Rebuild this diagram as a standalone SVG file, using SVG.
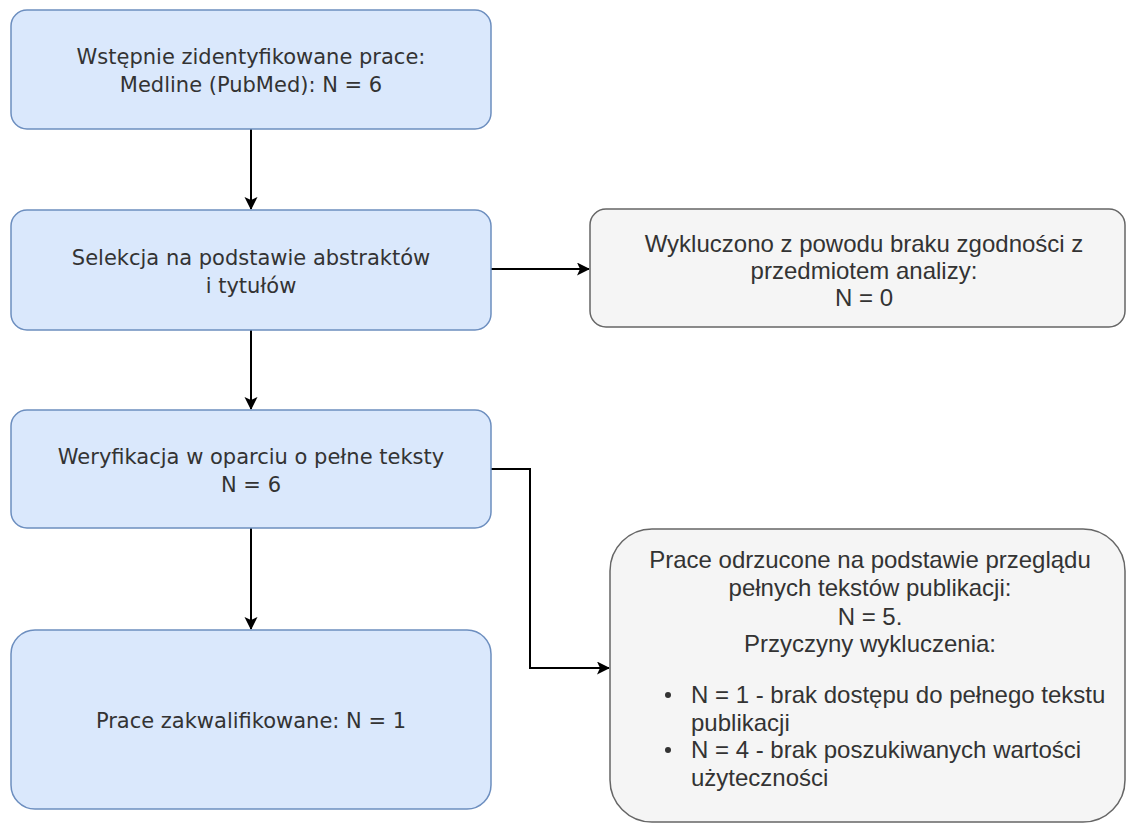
<svg xmlns="http://www.w3.org/2000/svg" width="1126" height="825" viewBox="0 0 1126 825">
<style>
.blue{fill:#dae8fc;stroke:#6c8ebf;stroke-width:1.5}
.gray{fill:#f5f5f5;stroke:#666666;stroke-width:1.5}
.tl{font-family:"DejaVu Sans",sans-serif;font-size:21px;fill:#333333;text-anchor:middle}
.tr{font-family:"Liberation Sans",Arial,sans-serif;font-size:24px;fill:#333333;text-anchor:middle}
.tb{font-family:"Liberation Sans",Arial,sans-serif;font-size:24px;fill:#333333}
.edge{fill:none;stroke:#000000;stroke-width:2}
</style>
<defs>
<marker id="arr" markerWidth="14" markerHeight="14" refX="12" refY="6.5" orient="auto" markerUnits="userSpaceOnUse">
<path d="M0,0 L13,6.5 L0,13 L3,6.5 Z" fill="#000000"/>
</marker>
</defs>
<rect width="1126" height="825" fill="#ffffff"/>
<g id="connectors">
<path class="edge" d="M251,129 L251,209" marker-end="url(#arr)"/>
<path class="edge" d="M251,330 L251,409" marker-end="url(#arr)"/>
<path class="edge" d="M251,528 L251,629" marker-end="url(#arr)"/>
<path class="edge" d="M491,269 L589,269" marker-end="url(#arr)"/>
<path class="edge" d="M491,469 L530,469 L530,668 L609,668" marker-end="url(#arr)"/>
</g>
<g id="n1">
<rect class="blue" x="11" y="10" width="480" height="119" rx="16"/>
<text class="tl" x="251" y="64">Wstępnie zidentyfikowane prace:</text>
<text class="tl" x="251" y="92">Medline (PubMed): N = 6</text>
</g>
<g id="n2">
<rect class="blue" x="11" y="210" width="480" height="120" rx="16"/>
<text class="tl" x="251" y="265">Selekcja na podstawie abstraktów</text>
<text class="tl" x="251" y="293">i tytułów</text>
</g>
<g id="n3">
<rect class="blue" x="11" y="410" width="480" height="118" rx="16"/>
<text class="tl" x="251" y="464">Weryfikacja w oparciu o pełne teksty</text>
<text class="tl" x="251" y="492">N = 6</text>
</g>
<g id="n4">
<rect class="blue" x="11" y="630" width="480" height="179" rx="24"/>
<text class="tl" x="251" y="728">Prace zakwalifikowane: N = 1</text>
</g>
<g id="n5">
<rect class="gray" x="590" y="209" width="535" height="118" rx="16"/>
<text class="tr" x="864" y="252">Wykluczono z powodu braku zgodności z</text>
<text class="tr" x="864" y="279">przedmiotem analizy:</text>
<text class="tr" x="864" y="306">N = 0</text>
</g>
<g id="n6">
<rect class="gray" x="610" y="529" width="515" height="293" rx="42"/>
<text class="tr" x="870" y="568">Prace odrzucone na podstawie przeglądu</text>
<text class="tr" x="870" y="596">pełnych tekstów publikacji:</text>
<text class="tr" x="870" y="625">N = 5.</text>
<text class="tr" x="870" y="652">Przyczyny wykluczenia:</text>
<circle cx="668" cy="695" r="3" fill="#333333"/>
<text class="tb" x="691" y="703">N = 1 - brak dostępu do pełnego tekstu</text>
<text class="tb" x="691" y="731">publikacji</text>
<circle cx="668" cy="750" r="3" fill="#333333"/>
<text class="tb" x="691" y="758">N = 4 - brak poszukiwanych wartości</text>
<text class="tb" x="691" y="786">użyteczności</text>
</g>
</svg>
